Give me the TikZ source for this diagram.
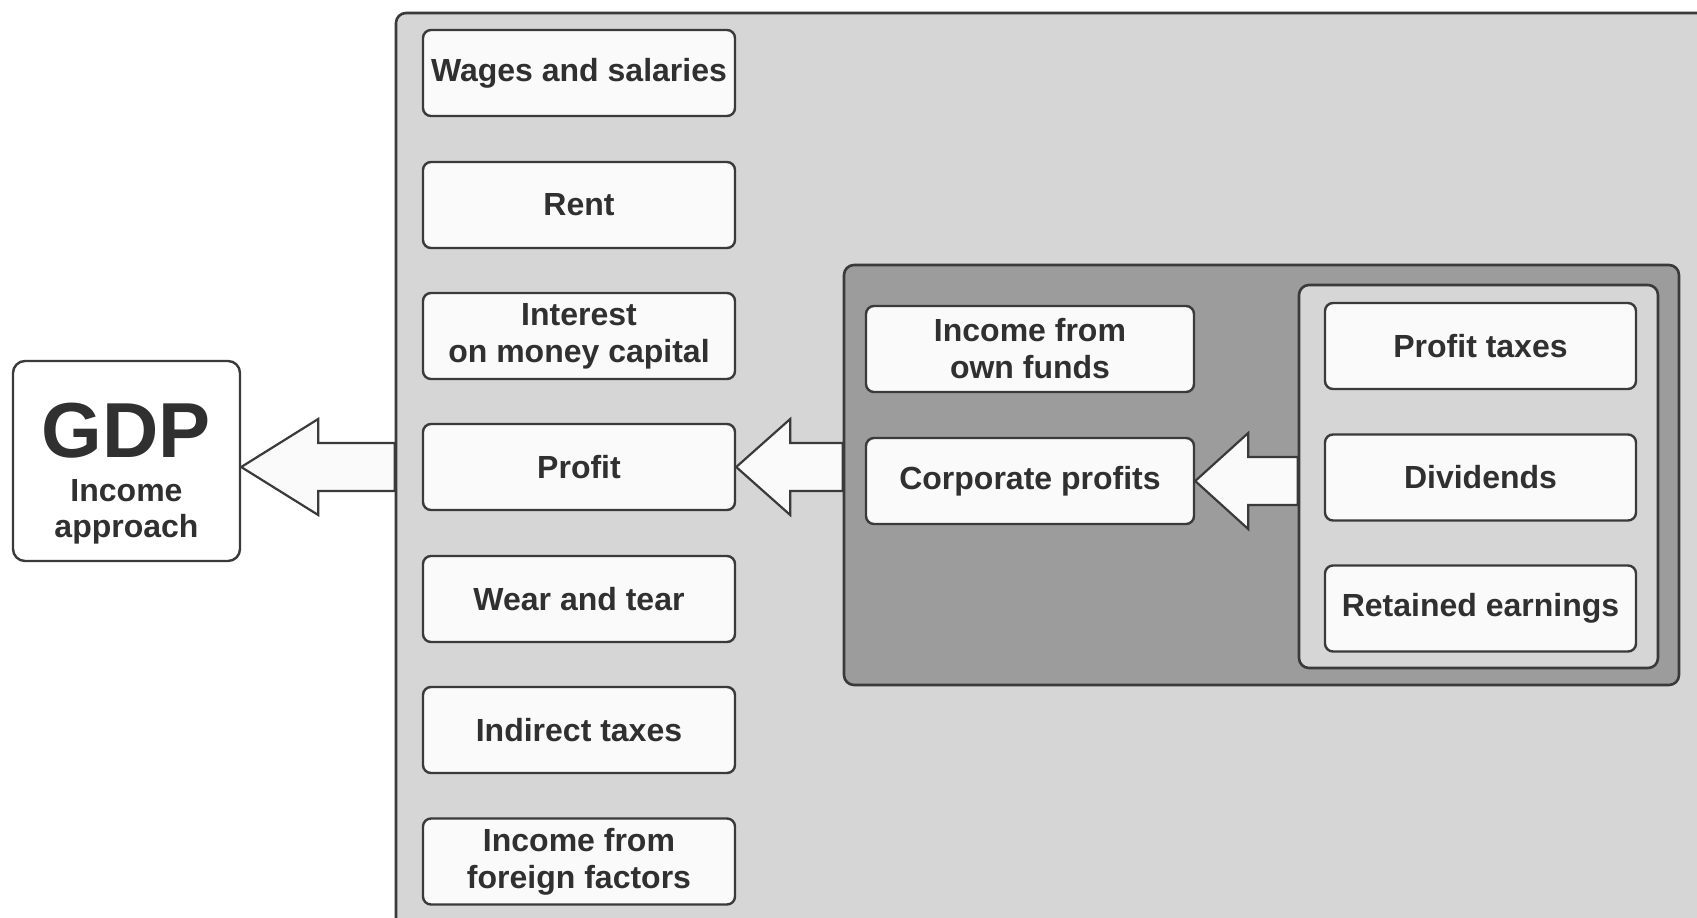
\documentclass[tikz,border=0pt]{standalone}
\usepackage{fontspec}
\setmainfont{Liberation Sans}
\usetikzlibrary{calc}
\definecolor{linegray}{HTML}{3A3A3A}
\definecolor{textgray}{HTML}{303030}
\definecolor{panelgray}{HTML}{D6D6D6}
\definecolor{darkgray}{HTML}{9C9C9C}
\definecolor{boxwhite}{HTML}{FAFAFA}
\tikzset{
  panel/.style={draw=linegray, line width=1.3pt, rounded corners=5pt},
  item/.style={draw=linegray, line width=1.2pt, rounded corners=4pt, fill=boxwhite,
    minimum height=43pt, align=center, inner sep=2pt, text=textgray,
    font=\fontsize{16}{18.5}\selectfont\bfseries},
  fatarrow/.style={draw=linegray, line width=1.1pt, fill=boxwhite, line join=miter}
}
% hollow block arrow: tip, tail node, head length
\newcommand{\hollowarrow}[3]{%
  \coordinate (u) at ($(#1)+(#3,-24)$);
  \coordinate (d) at ($(#1)+(#3,24)$);
  \draw[fatarrow] (#1) -- ($(#1)+(#3,-48)$) -- (u) -- (u -| #2.west)
    -- (d -| #2.west) -- (d) -- ($(#1)+(#3,48)$) -- cycle;
}
\begin{document}
\begin{tikzpicture}[x=0.5pt,y=-0.5pt]
\useasboundingbox (0,0) rectangle (1697,917);
\fill[white] (0,0) rectangle (1697,917);
\clip (0,0) rectangle (1697,917);

% panels
\node[panel, fill=panelgray, minimum width=657pt, minimum height=458.5pt] (main) at (1053,471.5) {};
\node[panel, fill=darkgray, minimum width=417.5pt, minimum height=210pt] (dark) at (1261.5,475) {};
\node[panel, fill=panelgray, minimum width=179.5pt, minimum height=191.5pt] (light) at (1478.5,476.5) {};

% GDP
\node[item, minimum width=113.5pt, minimum height=100pt, rounded corners=6pt, fill=white,
  font=\fontsize{16}{18}\selectfont\bfseries] (gdp) at (126.5,461)
  {\rule{0pt}{40pt}{\fontsize{39}{42}\selectfont GDP}\\[4.3pt]Income\\[0pt]approach};

% income components
\node[item, minimum width=156pt] (wages) at (579,73) {Wages and salaries};
\node[item, minimum width=156pt] (rent) at (579,205) {Rent};
\node[item, minimum width=156pt] (interest) at (579,336) {Interest\\on money capital};
\node[item, minimum width=156pt] (profit) at (579,467) {Profit};
\node[item, minimum width=156pt] (wear) at (579,599) {Wear and tear};
\node[item, minimum width=156pt] (indirect) at (579,730) {Indirect taxes};
\node[item, minimum width=156pt] (foreign) at (579,861.5) {Income from\\foreign factors};

% profit parts
\node[item, minimum width=164pt] (ownfunds) at (1030,349) {Income from\\own funds};
\node[item, minimum width=164pt] (corp) at (1030,481) {Corporate profits};

% corporate profit use
\node[item, minimum width=155.5pt] (taxes) at (1480.5,346) {Profit taxes};
\node[item, minimum width=155.5pt] (dividends) at (1480.5,477.5) {Dividends};
\node[item, minimum width=155.5pt] (retained) at (1480.5,608.5) {Retained earnings};

% arrows
\coordinate (gdptip) at (gdp.east |- profit.center);
\hollowarrow{gdptip}{main}{77}
\hollowarrow{profit.east}{dark}{54}
\hollowarrow{corp.east}{light}{53}
\end{tikzpicture}
\end{document}
